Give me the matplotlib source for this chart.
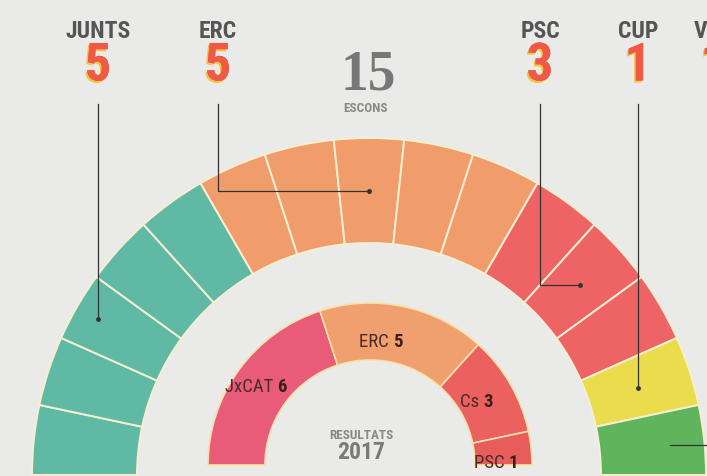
import numpy as np
import matplotlib
matplotlib.use("Agg")
import matplotlib.pyplot as plt
from matplotlib.patches import Wedge
import matplotlib.patheffects as pe
from matplotlib import font_manager

# outer ring: projected seats
outer_parties = ["JUNTS", "ERC", "PSC", "CUP", "VOX"]
outer_seats = [5, 5, 3, 1, 1]
outer_colors = ["#5fb9a4", "#f19d6b", "#ee6465", "#eadc4c", "#5fb45c"]
total_seats = 15

# inner ring: 2017 results
inner_parties = ["JxCAT", "ERC", "Cs", "PSC"]
inner_seats = [6, 5, 3, 1]
inner_colors = ["#e85c7a", "#f0a06e", "#ea6160", "#e95c5c"]

# layout (pixel coords, y up)
label_x = [98, 218, 540, 638, 694]
leader_style = ["ray", "elbow", "elbow", "ray", "side"]
inner_label_xy = [(256, 90), (381, 135), (476, 75), (496, 14)]
c_out = (369, 1)
r_out, w_out = 337, 105
c_in = (370, 11)
r_in, w_in = 162, 57

bg = "#eaeae8"
names = {f.name for f in font_manager.fontManager.ttflist}
cands = ["Liberation Sans Narrow", "Roboto Condensed", "Open Sans Condensed",
         "DejaVu Sans Condensed", "Open Sans"]
fam = [f for f in cands if f in names][:1] + ["DejaVu Sans"]

fig = plt.figure(figsize=(7.07, 4.77), dpi=100, facecolor=bg)
ax = fig.add_axes([0, 0, 1, 1])
ax.set_xlim(0, 707)
ax.set_ylim(0, 477)
ax.axis("off")

# outer ring, one wedge per seat
step = 180.0 / total_seats
k = 0
mids = []
for p, n, col in zip(outer_parties, outer_seats, outer_colors):
    start = k
    for s in range(n):
        t2 = 180 - k * step
        t1 = t2 - step
        ax.add_patch(Wedge(c_out, r_out, t1, t2, width=w_out, facecolor=col,
                           edgecolor="#f6efd2", linewidth=1.4))
        k += 1
    mids.append(180 - (start + n / 2.0) * step)

# inner ring, one wedge per party
k = 0
for p, n, col in zip(inner_parties, inner_seats, inner_colors):
    t2 = 180 - k * step
    t1 = t2 - n * step
    ax.add_patch(Wedge(c_in, r_in, t1, t2, width=w_in, facecolor=col,
                       edgecolor="#f4e3a8", linewidth=1.2))
    k += n

# inner labels (name regular, count bold)
fig.canvas.draw()
rend = fig.canvas.get_renderer()
for p, n, (x, y) in zip(inner_parties, inner_seats, inner_label_xy):
    t = ax.text(x, y, p + " " + str(n), ha="center", va="center", fontsize=13.5,
                color="#4a2a2a", family=fam, alpha=0)
    left = t.get_window_extent(renderer=rend).x0
    t1 = ax.text(left, y, p + " ", ha="left", va="center", fontsize=13.5,
                 color="#4a2a2a", family=fam)
    right = t1.get_window_extent(renderer=rend).x1
    ax.text(right, y, str(n), ha="left", va="center", fontsize=13.5,
            color="#3a1e1e", family=fam, fontweight="bold")

ax.text(361, 41, "RESULTATS", ha="center", va="center", fontsize=9.5,
        color="#888888", family=fam, fontweight="bold")
ax.text(361, 24, "2017", ha="center", va="center", fontsize=17,
        color="#7a7a7a", family=fam, fontweight="bold")

# headline
ax.text(368, 402, "15", ha="center", va="center", fontsize=40,
        color="#777777", family=["Liberation Serif", "DejaVu Serif"],
        fontweight="bold")
ax.text(366, 368, "ESCONS", ha="center", va="center", fontsize=9.5,
        color="#888888", family=fam, fontweight="bold")

# party labels and counts
shadow = [pe.withSimplePatchShadow(offset=(-1.2, -1.5), shadow_rgbFace="#f3c43a", alpha=0.95),
          pe.Normal()]
for p, n, x in zip(outer_parties, outer_seats, label_x):
    ax.text(x, 446, p, ha="center" if p != "VOX" else "left", va="center",
            fontsize=17, color="#555555", family=fam, fontweight="bold")
    ax.text(x if p != "VOX" else 714, 410, str(n), ha="center", va="center",
            fontsize=38, color="#ee5a45", family=fam, fontweight="bold",
            path_effects=shadow)

# leader lines
r_mid = r_out - w_out / 2
top = 372
for x, a, st in zip(label_x, mids, leader_style):
    ex = c_out[0] + r_mid * np.cos(np.radians(a))
    ey = c_out[1] + r_mid * np.sin(np.radians(a))
    if st == "ray":
        ey = c_out[1] + (x - c_out[0]) * np.tan(np.radians(a))
        ax.plot([x, x], [top, ey], color="#333333", lw=0.9)
        ax.plot([x], [ey], "o", color="#333333", ms=2.5)
    elif st == "elbow":
        ax.plot([x, x, ex], [top, ey, ey], color="#333333", lw=0.9)
        ax.plot([ex], [ey], "o", color="#333333", ms=2.5)
    else:
        ax.plot([ex + 18, 707], [ey, ey], color="#333333", lw=0.9)

fig.savefig("out.png", dpi=100, facecolor=bg)
